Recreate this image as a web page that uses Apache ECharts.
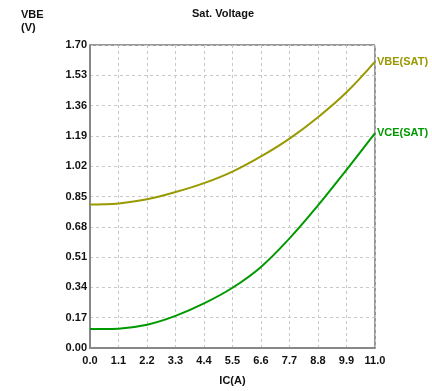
<!DOCTYPE html>
<html>
<head>
<meta charset="utf-8">
<script src="https://cdn.jsdelivr.net/npm/echarts@6/dist/echarts.min.js"></script>
<style>html,body{margin:0;padding:0;background:#fff}#c{width:432px;height:391px}</style>
</head>
<body>
<div id="c"></div>
<script>
var icValues = [0, 0.55, 1.1, 2.2, 3.3, 4.4, 5.5, 6.6, 7.7, 8.8, 9.9, 11.0];
var vbeSat = [0.805, 0.806, 0.811, 0.835, 0.875, 0.925, 0.990, 1.075, 1.175, 1.295, 1.435, 1.607];
var vceSat = [0.106, 0.106, 0.108, 0.130, 0.180, 0.250, 0.338, 0.455, 0.615, 0.800, 1.000, 1.206];
var seriesNames = ['VBE(SAT)', 'VCE(SAT)'];
var seriesColors = ['#999900', '#009900'];

function pairs(xs, ys){ return xs.map(function(x,i){ return [x, ys[i]]; }); }
var font = 'Liberation Sans, Arial, sans-serif';
var chart = echarts.init(document.getElementById('c'));
chart.setOption({
  animation: false,
  backgroundColor: '#fff',
  title: [
    {text: 'Sat. Voltage', left: 218, top: 3, textAlign: 'center',
     textStyle: {fontSize: 11, fontWeight: 'bold', color: '#111', fontFamily: font}},
    {text: 'VBE\n(V)', left: 16, top: 3,
     textStyle: {fontSize: 11, fontWeight: 'bold', color: '#111', fontFamily: font, lineHeight: 13}}
  ],
  grid: {left: 90, top: 45, width: 285, height: 304, show: true, borderColor: '#333', borderWidth: 1, backgroundColor: 'transparent'},
  xAxis: {
    type: 'value', min: 0, max: 11, interval: 1.1,
    name: 'IC(A)', nameLocation: 'middle', nameGap: 27,
    nameTextStyle: {fontSize: 11, fontWeight: 'bold', color: '#111', fontFamily: font},
    axisLine: {show: true, lineStyle: {color: '#888', width: 2}},
    axisTick: {show: false},
    axisLabel: {fontSize: 11, fontWeight: 'bold', color: '#111', fontFamily: font, margin: 7,
      formatter: function(v){ return (Math.round(v*10)/10).toFixed(1); }},
    splitLine: {show: true, lineStyle: {color: '#c8c8c8', type: [3, 3]}}
  },
  yAxis: {
    type: 'value', min: 0, max: 1.7, interval: 0.17,
    axisLine: {show: true, lineStyle: {color: '#888', width: 2}},
    axisTick: {show: false},
    axisLabel: {fontSize: 11, fontWeight: 'bold', color: '#111', fontFamily: font, margin: 3,
      formatter: function(v){ return (Math.round(v*100)/100).toFixed(2); }},
    splitLine: {show: true, lineStyle: {color: '#c8c8c8', type: [3, 3]}}
  },
  series: [
    {name: seriesNames[0], type: 'line', data: pairs(icValues, vbeSat), smooth: 0.4, symbol: 'none',
     lineStyle: {color: seriesColors[0], width: 2}, itemStyle: {color: seriesColors[0]},
     endLabel: {show: true, formatter: seriesNames[0], color: seriesColors[0], fontSize: 11, fontWeight: 'bold', fontFamily: font, distance: 2}},
    {name: seriesNames[1], type: 'line', data: pairs(icValues, vceSat), smooth: 0.4, symbol: 'none',
     lineStyle: {color: seriesColors[1], width: 2}, itemStyle: {color: seriesColors[1]},
     endLabel: {show: true, formatter: seriesNames[1], color: seriesColors[1], fontSize: 11, fontWeight: 'bold', fontFamily: font, distance: 2}}
  ]
});
</script>
</body>
</html>
